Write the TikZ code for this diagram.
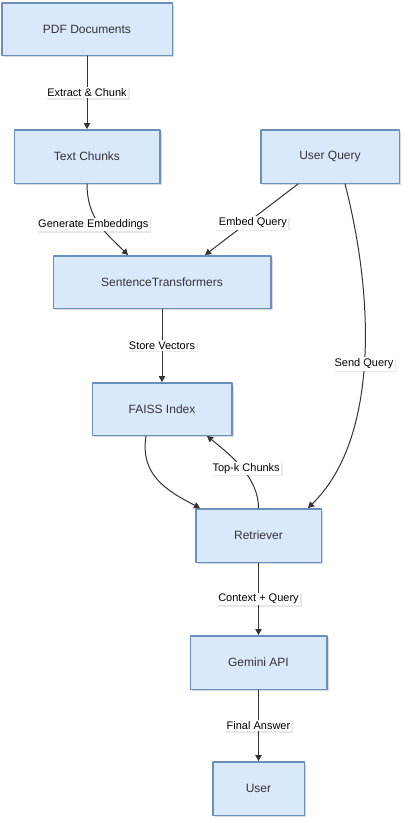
\documentclass[tikz,border=0pt]{standalone}
\usepackage{fontspec}
\setmainfont{Liberation Sans}
\usepackage{tikz}
\usetikzlibrary{arrows.meta,calc,positioning,shadows,shapes}
\tikzset{>={Triangle[length=6pt,width=6.5pt]}}
\definecolor{dae8fc}{rgb}{0.855,0.910,0.988}
\definecolor{cebfqq}{rgb}{0.424,0.557,0.749}
\definecolor{tttttt}{rgb}{0.2,0.2,0.2}

\begin{document}
\begin{tikzpicture}[line cap=round,line join=round,x=1.0pt,y=1.0pt,
  box/.style={draw=cebfqq,fill=dae8fc,line width=1.5pt,text=tttttt,inner sep=0pt,
    font=\fontsize{12}{14}\selectfont,
    drop shadow={shadow xshift=2pt,shadow yshift=-2pt,opacity=0.25,fill=black!60}},
  lbl/.style={fill=white,text=black,inner sep=1.5pt,font=\fontsize{11}{13}\selectfont,
    drop shadow={shadow xshift=1.5pt,shadow yshift=-1.5pt,opacity=0.15,fill=black!60}},
  flow/.style={->,line width=1pt,color=tttttt}]
\useasboundingbox (0,0) rectangle (408,-823);
\node[box,minimum width=170.5pt,minimum height=52.5pt] (pdf) at (87,-29) {PDF Documents};
\node[box,minimum width=145.5pt,minimum height=53.5pt] (tc) at (87,-156.5) {Text Chunks};
\node[box,minimum width=138.5pt,minimum height=53.5pt] (uq) at (330,-156.5) {User Query};
\node[box,minimum width=217.5pt,minimum height=52.5pt] (st) at (162,-282) {SentenceTransformers};
\node[box,minimum width=139.5pt,minimum height=52.5pt] (faiss) at (162,-409) {FAISS Index};
\node[box,minimum width=125.5pt,minimum height=53.5pt] (ret) at (258.5,-535.5) {Retriever};
\node[box,minimum width=136.5pt,minimum height=53.5pt] (gem) at (258.5,-662.5) {Gemini API};
\node[box,minimum width=91.5pt,minimum height=53.5pt] (usr) at (258.5,-788.5) {User};
\draw[flow] (pdf) -- node[lbl] {Extract \& Chunk} (tc);
\draw[flow] (tc.south) .. controls +(0,-35) and +(-22,22) .. node[lbl,pos=0.5,xshift=-6pt] {Generate Embeddings} ([xshift=-34pt]st.north);
\draw[flow] ([xshift=-32pt]uq.south) -- node[lbl,pos=0.55,xshift=6pt] {Embed Query} ([xshift=43pt]st.north);
\draw[flow] ([xshift=15pt]uq.south) .. controls +(30,-116) and +(70,68) .. node[lbl,pos=0.5] {Send Query} ([xshift=49.5pt]ret.north);
\draw[flow] (st) -- node[lbl] {Store Vectors} (faiss);
\draw[flow] ([xshift=-16pt]faiss.south) .. controls +(-6,-38) and +(-35,18) .. ([xshift=-58.5pt]ret.north);
\draw[flow] (ret.north) .. controls +(0,30) and +(25,-20) .. node[lbl,pos=0.5,xshift=4pt] {Top-k Chunks} ([xshift=45pt]faiss.south);
\draw[flow] (ret) -- node[lbl] {Context + Query} (gem);
\draw[flow] (gem) -- node[lbl] {Final Answer} (usr);
\end{tikzpicture}
\end{document}
